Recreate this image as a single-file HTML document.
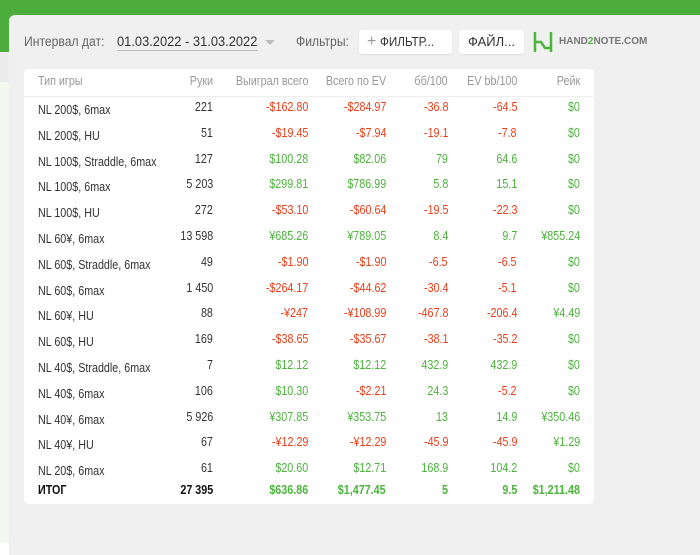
<!DOCTYPE html>
<html><head><meta charset="utf-8"><style>
*{margin:0;padding:0;box-sizing:border-box}
body{width:700px;height:543px;overflow:hidden;background:#fff;font-family:"Liberation Sans",sans-serif;position:relative}
.abs{position:absolute}
.r{position:absolute;text-align:right;font-size:12.5px;white-space:nowrap;transform:scaleX(0.86);transform-origin:right center}
.l{transform-origin:left center}
.red{color:#e8401c}.grn{color:#4cb43c}
</style></head><body>
<div class="abs" style="left:0;top:0;width:700px;height:22px;background:#4cac3c"></div>
<div class="abs" style="left:0;top:0;width:12px;height:52px;background:#4cac3c"></div>
<div class="abs" style="left:0;top:52px;width:12px;height:30px;background:#ececec"></div>
<div class="abs" style="left:0;top:82px;width:12px;height:461px;background:#f2f8f0"></div>
<div class="abs" style="left:9px;top:15px;width:700px;height:540px;background:#f0f0f0;border-radius:6px 0 0 0"></div>

<div class="abs" style="left:24px;top:34px;font-size:13.5px;color:#666;transform:scaleX(0.9);transform-origin:left">Интервал дат:</div>
<div class="abs" style="left:117px;top:33px;font-size:14px;color:#333;border-bottom:1px solid #bbb;padding-bottom:1px;transform:scaleX(0.92);transform-origin:left">01.03.2022 - 31.03.2022</div>
<div class="abs" style="left:265px;top:40px;width:0;height:0;border-left:5px solid transparent;border-right:5px solid transparent;border-top:5px solid #bbb"></div>
<div class="abs" style="left:296px;top:34px;font-size:13.5px;color:#666;transform:scaleX(0.9);transform-origin:left">Фильтры:</div>
<div class="abs" style="left:359px;top:30px;width:93px;height:24px;background:#fff;border-radius:3px;font-size:13px;color:#333;line-height:24px;padding-left:8px;box-shadow:0 1px 1px rgba(0,0,0,.08);white-space:nowrap"><span style="color:#999;font-size:16px">+</span> <span style="display:inline-block;transform:scaleX(0.9);transform-origin:left">ФИЛЬТР...</span></div>
<div class="abs" style="left:459px;top:30px;width:65px;height:24px;background:#fff;border-radius:3px;font-size:13px;color:#333;line-height:24px;text-align:center;box-shadow:0 1px 1px rgba(0,0,0,.08)">ФАЙЛ...</div>
<svg class="abs" style="left:532px;top:31px" width="22" height="22"><path d="M3 1v20M19 1v20M3 11h6l4 6h6" stroke="#4cb43c" stroke-width="2.5" fill="none"/></svg>
<div class="abs" style="left:559px;top:36px;font-size:10px;font-weight:bold;color:#777">HAND<span style="color:#4cb43c">2</span>NOTE.COM</div>

<div class="abs" style="left:24px;top:69px;width:570px;height:435px;background:#fff;border-radius:5px"></div>
<div class="abs" style="left:24px;top:96px;width:570px;height:1px;background:#eee"></div>
<div id="tbl"></div>
<script>
const games=["NL 200$, 6max","NL 200$, HU","NL 100$, Straddle, 6max","NL 100$, 6max","NL 100$, HU","NL 60¥, 6max","NL 60$, Straddle, 6max","NL 60$, 6max","NL 60¥, HU","NL 60$, HU","NL 40$, Straddle, 6max","NL 40$, 6max","NL 40¥, 6max","NL 40¥, HU","NL 20$, 6max"];
const hands=["221","51","127","5 203","272","13 598","49","1 450","88","169","7","106","5 926","67","61"];
const won=["-$162.80","-$19.45","$100.28","$299.81","-$53.10","¥685.26","-$1.90","-$264.17","-¥247","-$38.65","$12.12","$10.30","¥307.85","-¥12.29","$20.60"];
const ev=["-$284.97","-$7.94","$82.06","$786.99","-$60.64","¥789.05","-$1.90","-$44.62","-¥108.99","-$35.67","$12.12","-$2.21","¥353.75","-¥12.29","$12.71"];
const bb=["-36.8","-19.1","79","5.8","-19.5","8.4","-6.5","-30.4","-467.8","-38.1","432.9","24.3","13","-45.9","168.9"];
const evbb=["-64.5","-7.8","64.6","15.1","-22.3","9.7","-6.5","-5.1","-206.4","-35.2","432.9","-5.2","14.9","-45.9","104.2"];
const rake=["$0","$0","$0","$0","$0","¥855.24","$0","$0","¥4.49","$0","$0","$0","¥350.46","¥1.29","$0"];
const headers=["Тип игры","Руки","Выиграл всего","Всего по EV","бб/100","EV bb/100","Рейк"];
const totals=["ИТОГ","27 395","$636.86","$1,477.45","5","9.5","$1,211.48"];
const colRight=[0,213,308,386,448,517,580];
const tbl=document.getElementById('tbl');
function cell(txt,col,y,cls,name,bold){
  const d=document.createElement('div');
  d.className='r '+(cls||'');
  d.textContent=txt;
  if(col===0){d.style.left='38px';d.style.textAlign='left';d.classList.add('l');}
  else{d.style.right=(700-colRight[col])+'px';}
  d.style.top=y+'px';
  if(bold)d.style.fontWeight='bold';
  
  
  tbl.appendChild(d);
}
const hn=['header-game-type','header-hands','header-won-total','header-ev-total','header-bb100','header-ev-bb100','header-rake'];
headers.forEach((h,i)=>{cell(h,i,74,'',hn[i]);});
[...tbl.children].forEach(c=>c.style.color='#999');
function colr(v){return v.trim().startsWith('-')?'red':'grn';}
games.forEach((g,i)=>{
  const y=100+i*25.8;
  const c=[g,hands[i],won[i],ev[i],bb[i],evbb[i],rake[i]];
  const names=['game-type','hands','won-total','ev-total','bb100','ev-bb100','rake'];
  c.forEach((t,j)=>{
    const cls=j<2?'':colr(t);
    cell(t,j,j===0?y+3:y,cls,names[j]+'-row-'+(i+1));
    if(j<2)tbl.lastChild.style.color='#333';
  });
});
const tn=['total-label','total-hands','total-won','total-ev','total-bb100','total-ev-bb100','total-rake'];
totals.forEach((t,j)=>{cell(t,j,483,j<2?'':'grn',tn[j],true);if(j<2)tbl.lastChild.style.color='#111';});
</script>
</body></html>
